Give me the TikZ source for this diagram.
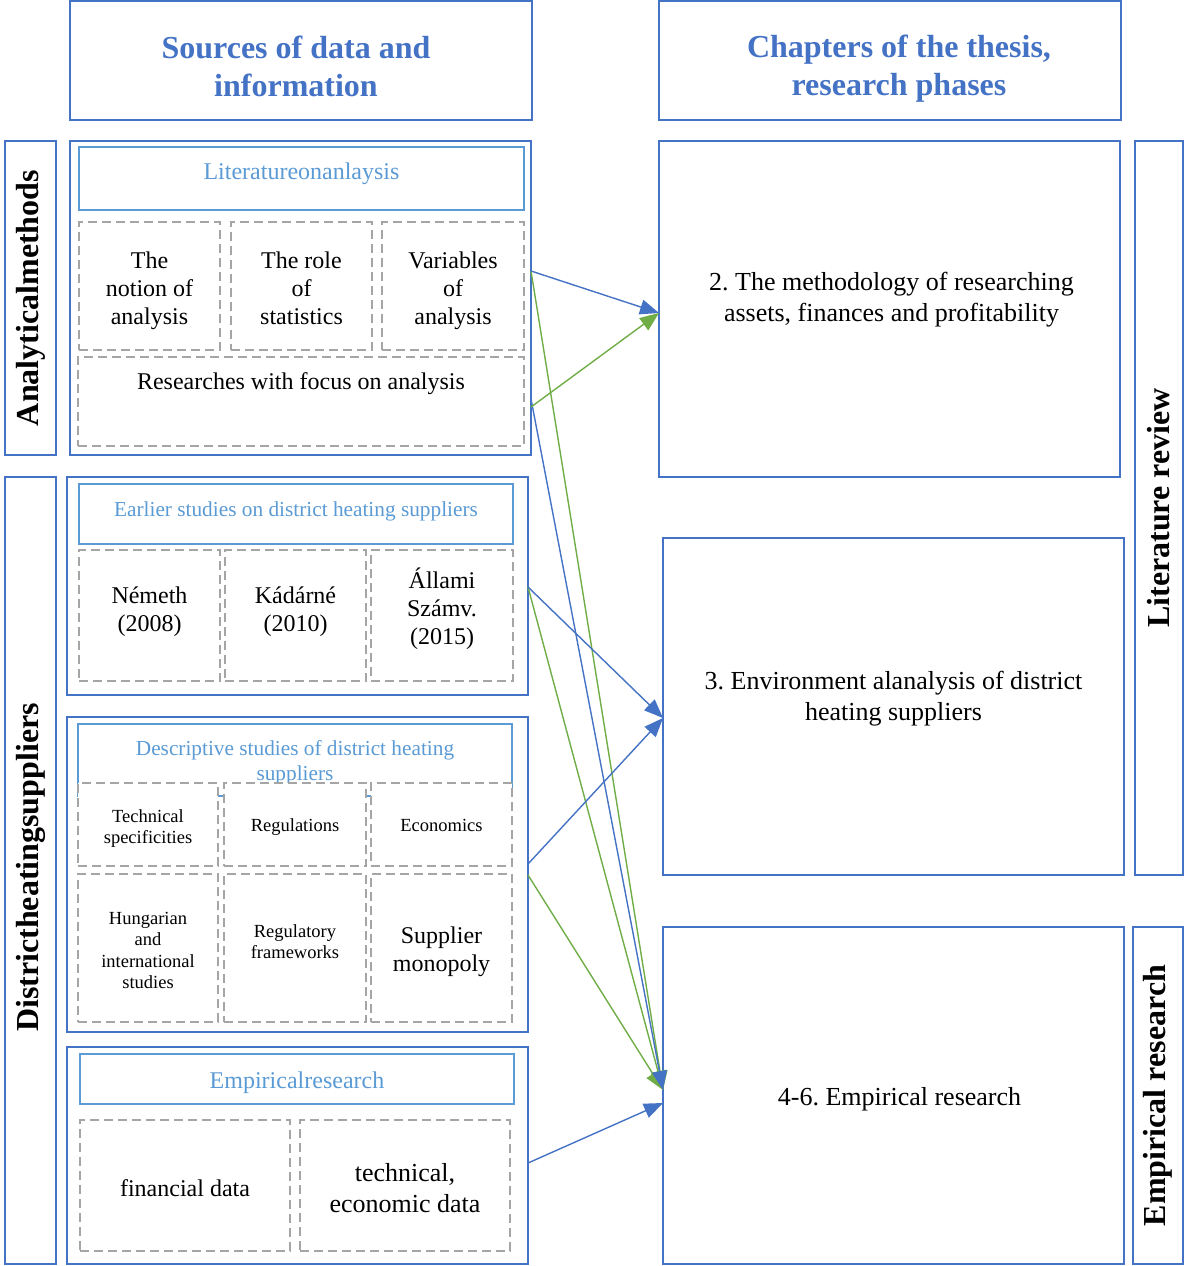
\documentclass[tikz,border=0pt]{standalone}
\usepackage{fontspec}
\setmainfont{Liberation Serif}
\frenchspacing
\usetikzlibrary{arrows.meta}
\definecolor{frameblue}{HTML}{4472C4}
\definecolor{paleblue}{HTML}{5B9BD5}
\definecolor{dashgray}{HTML}{A5A5A5}
\definecolor{linkgreen}{HTML}{70AD47}
\newcommand{\fs}[2]{\fontsize{#1}{#2}\selectfont}
% \bx{style}{name}{x1}{y1}{x2}{y2}{text}: a box given by its corners
\newcommand{\bx}[7]{\node[#1, minimum width={#5-#3}, minimum height={#6-#4}] (#2) at ({(#3+#5)/2},{(#4+#6)/2}) {#7};}
% \tx{box}{raise}{style}{text}: text set in a box, raised by the given amount
\newcommand{\tx}[4]{\node[celltext, #3] (#1-t) at ([yshift=#2pt]#1) {#4};}
\tikzset{
  boxbase/.style={rectangle, inner sep=0pt, outer sep=0pt, align=center},
  frame/.style={boxbase, draw=frameblue, line width=2.6pt, fill=white},
  subhead/.style={boxbase, draw=paleblue, line width=2.8pt, fill=white, text=paleblue, font=\fs{24}{28}},
  cell/.style={boxbase, draw=dashgray, line width=2.4pt, dash pattern=on 9pt off 5pt, fill=white, font=\fs{24}{28}},
  celltext/.style={align=center, inner sep=0pt, font=\fs{24}{28}},
  small/.style={font=\fs{18.5}{21.5}},
  header/.style={align=center, inner sep=0pt, text=frameblue, font=\bfseries\fs{32}{38}},
  sidelabel/.style={rotate=90, font=\bfseries\fs{32}{36}, inner sep=0pt},
  chaptertext/.style={align=center, font=\fs{26}{31}, inner sep=0pt},
  bluelink/.style={draw=frameblue, line width=1.4pt, -{Triangle[length=19pt,width=15pt]}},
  greenlink/.style={draw=linkgreen, line width=1.4pt, -{Triangle[length=19pt,width=15pt]}},
}
\begin{document}
\begin{tikzpicture}[x=1pt,y=-1pt]
\useasboundingbox (0,0) rectangle (1185,1266);

% column headers
\bx{frame}{hsrc}{70}{1}{532}{120}{}
\node[header] (hsrctxt) at ([xshift=-5pt,yshift=-6pt]hsrc) {Sources of data and\\information};
\bx{frame}{hchap}{659}{1}{1121}{120}{}
\node[header] (hchaptxt) at ([xshift=9pt,yshift=-8pt]hchap) {Chapters of the thesis,\\research phases};

% ---- analytical methods
\bx{frame}{lblA}{5}{141}{56}{455}{}
\node[sidelabel] (lblAtxt) at (lblA) {Analyticalmethods};
\bx{frame}{grpA}{70}{141}{531}{455}{}
\bx{subhead, text depth=14pt}{litA}{79}{147}{524}{210}{Literatureonanlaysis}
\bx{cell}{cA1}{79}{222}{220}{350}{}
\tx{cA1}{-5}{}{The\\notion of\\analysis}
\bx{cell}{cA2}{231}{222}{372}{350}{}
\tx{cA2}{-2}{}{The role\\of\\statistics}
\bx{cell}{cA3}{382}{222}{524}{350}{}
\tx{cA3}{-5}{}{Variables\\of\\analysis}
\bx{cell}{cA4}{78}{357}{524}{446}{}
\node[celltext] (cA4-t) at ([yshift=-27pt]cA4.north) {Researches with focus on analysis};

% ---- district heating suppliers
\bx{frame}{lblB}{5}{477}{56}{1264}{}
\node[sidelabel] (lblBtxt) at ([yshift=3pt]lblB) {Districtheatingsuppliers};

\bx{frame}{grpB}{67}{477}{528}{695}{}
\bx{subhead, font=\fs{21.3}{25}, text depth=9pt}{earlyB}{79}{484}{513}{544}{Earlier studies on district heating suppliers}
\bx{cell}{cB1}{79}{550}{220}{681}{}
\tx{cB1}{3.5}{}{Németh\\(2008)}
\bx{cell}{cB2}{225}{550}{366}{681}{}
\tx{cB2}{3.5}{}{Kádárné\\(2010)}
\bx{cell}{cB3}{371}{550}{513}{681}{}
\tx{cB3}{6.5}{}{Állami\\Számv.\\(2015)}

\bx{frame}{grpC}{67}{717}{528}{1032}{}
\bx{subhead}{descC}{78}{724}{512}{796}{}
\tx{descC}{-3}{text=paleblue, font=\fs{21.3}{25}}{Descriptive studies of district heating\\suppliers}
\bx{cell}{cC1}{78}{783}{218}{866}{}
\tx{cC1}{-4}{small}{Technical\\specificities}
\bx{cell}{cC2}{224}{783}{366}{866}{}
\tx{cC2}{-3}{small}{Regulations}
\bx{cell}{cC3}{371}{783}{512}{866}{}
\tx{cC3}{-1}{small}{Economics}
\bx{cell}{cC4}{78}{874}{218}{1022}{}
\tx{cC4}{-2.5}{small}{Hungarian\\and\\international\\studies}
\bx{cell}{cC5}{224}{874}{366}{1022}{}
\tx{cC5}{6.5}{small}{Regulatory\\frameworks}
\bx{cell}{cC6}{371}{874}{512}{1022}{}
\tx{cC6}{-4}{}{Supplier\\monopoly}

\bx{frame}{grpD}{67}{1047}{528}{1264}{}
\bx{subhead, text height=24pt}{empD}{80}{1054}{514}{1104}{Empiricalresearch}
\bx{cell, text height=22pt}{cD1}{80}{1120}{290}{1251}{financial data}
\bx{cell}{cD2}{300}{1120}{510}{1251}{}
\tx{cD2}{-3}{font=\fs{26}{31}}{technical,\\economic data}

% ---- chapters of the thesis
\bx{frame}{chA}{659}{141}{1120}{477}{}
\node[chaptertext] (chAtxt) at ([xshift=2pt,yshift=9pt]chA) {2. The methodology of researching\\assets, finances and profitability};
\bx{frame}{chB}{663}{538}{1124}{875}{}
\node[chaptertext] (chBtxt) at ([yshift=8pt]chB) {3. Environment alanalysis of district\\heating suppliers};
\bx{frame}{chC}{663}{927}{1124}{1264}{}
\node[chaptertext] (chCtxt) at ([xshift=6pt,yshift=-4pt]chC) {4-6. Empirical research};

\bx{frame}{lblR1}{1135}{141}{1183}{875}{}
\node[sidelabel] (lblR1txt) at (lblR1) {Literature review};
\bx{frame}{lblR2}{1133}{927}{1183}{1264}{}
\node[sidelabel] (lblR2txt) at (lblR2) {Empirical research};

% ---- connector ends
\coordinate (oVar) at (grpA.east |- 0,271);
\coordinate (oResG) at (grpA.east |- 0,407);
\coordinate (oResB) at (grpA.east |- 0,399);
\coordinate (oAll) at (grpB.east |- 0,587);
\coordinate (oEcoB) at (grpC.east |- 0,864);
\coordinate (oEcoG) at (grpC.east |- 0,875);
\coordinate (oTec) at (grpD.east |- 0,1163);
\coordinate (tA) at (chA.west |- 0,313);
\coordinate (tB) at (chB.west |- 0,718);
\coordinate (tC) at (chC.west |- 0,1090);
\coordinate (tC2) at (chC.west |- 0,1103);

% ---- connectors
\draw[greenlink] (oVar) -- (tC);
\draw[greenlink] (oAll) -- (tC);
\draw[greenlink] (oEcoG) -- (tC);
\draw[bluelink] (oResB) -- (tC);
\draw[bluelink] (oVar) -- (tA);
\draw[greenlink] (oResG) -- (tA);
\draw[bluelink] (oAll) -- (tB);
\draw[bluelink] (oEcoB) -- (tB);
\draw[bluelink] (oTec) -- (tC2);
\end{tikzpicture}
\end{document}
